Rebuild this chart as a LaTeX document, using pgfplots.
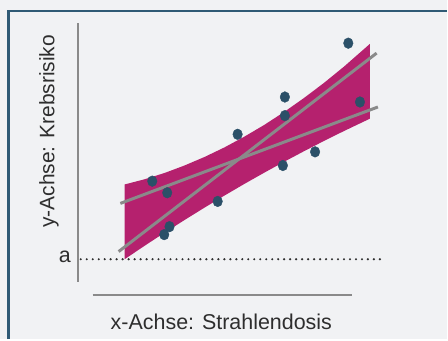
\documentclass[border=0pt]{standalone}
\usepackage{pgfplots}
\pgfplotsset{compat=1.18}
\usepackage{fontspec}
\setmainfont{Liberation Sans}
\definecolor{bg}{HTML}{F1F2F4}
\definecolor{frame}{HTML}{2F5A75}
\definecolor{band}{HTML}{B5216E}
\definecolor{dot}{HTML}{2B5068}
\definecolor{lgray}{HTML}{8A8A8A}
\definecolor{txt}{HTML}{2E2E2E}
\begin{document}
\begin{tikzpicture}
\begin{axis}[scale only axis, width=448pt, height=340pt,
  xmin=0, xmax=448, ymin=0, ymax=340, hide axis, clip=false]
\fill[bg] (axis cs:0,0) rectangle (axis cs:448,340);
\addplot[draw=frame, line width=2.6pt, line join=miter] coordinates {(8.7,0) (8.7,329) (448,329)};
% axis lines
\addplot[lgray, line width=2.5pt] coordinates {(78,316.7) (78,56.7)};
\addplot[lgray, line width=2.5pt] coordinates {(93,44) (353,44)};
% dotted baseline a
\addplot[txt, line width=2.4pt, line cap=round, dash pattern=on 0pt off 6pt] coordinates {(81,80) (383,80)};
% confidence band
\addplot[fill=band, draw=none] coordinates {
 (125,155.0) (145,160.2) (165,166.5) (185,174.0) (205,182.5) (225,192.1) (245,202.9)
 (265,214.7) (285,227.7) (305,241.8) (325,256.9) (345,273.2) (371,296.0)
 (371,221.0) (345,208.6) (325,198.7) (305,188.4) (285,177.8) (265,166.8) (245,155.5)
 (225,143.8) (205,131.7) (185,119.3) (165,106.6) (145,93.5) (125,80.0)} -- cycle;
% regression lines
\addplot[lgray, line width=3pt] coordinates {(119,87.7) (377.7,286.7)};
\addplot[lgray, line width=3pt] coordinates {(120.7,136) (379,232.7)};
% data points
\addplot[only marks, mark=*, mark size=4.8pt, color=dot, mark options={draw=dot, fill=dot, yscale=1.12}] coordinates {
 (152.7,158.3) (167.7,146.7) (218.3,138) (170,112.7) (164.7,104.7) (238.3,205.3)
 (285.7,242.7) (285.7,224) (283.7,174) (316,187.7) (349.3,296.7) (361,237.7)};
\node[anchor=base, font=\fontsize{21.5}{24}\selectfont, text=txt, inner sep=0pt] at (axis cs:222,10) {x-Achse: Strahlendosis};
\node[anchor=base, rotate=90, font=\fontsize{21}{24}\selectfont, text=txt, inner sep=0pt] at (axis cs:54.5,208.3) {y-Achse: Krebsrisiko};
\node[anchor=base, font=\fontsize{21.5}{24}\selectfont, text=txt, inner sep=0pt] at (axis cs:65,76.7) {a};
\end{axis}
\end{tikzpicture}
\end{document}
